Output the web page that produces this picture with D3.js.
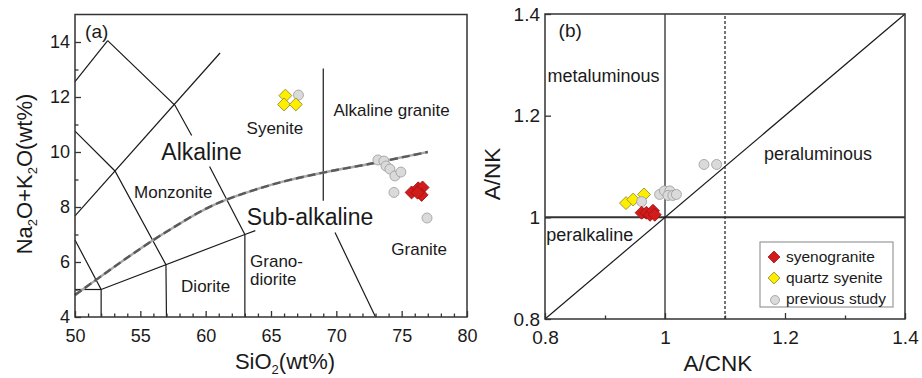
<!DOCTYPE html>
<html lang="en">
<head>
<meta charset="UTF-8">
<title>TAS and A/NK vs A/CNK</title>
<script src="https://cdn.jsdelivr.net/npm/d3@7"></script>
<style>
  body { margin: 0; background: #fff; }
  svg text { font-family: "Liberation Sans", Arial, Helvetica, sans-serif; fill: #1a1a1a; }
  .frame { fill: none; stroke: #333; stroke-width: 1.5px; }
  .axis path { display: none; }
  .axis line { stroke: #333; stroke-width: 1.3px; }
  .field { fill: none; stroke: #1a1a1a; stroke-width: 1.2px; }
</style>
</head>
<body>
<div id="chart"></div>
<script>
// ---- panel (a) TAS data ----
const tasXTicks = [50, 55, 60, 65, 70, 75, 80];
const tasXMinor = [51, 52, 53, 54, 56, 57, 58, 59, 61, 62, 63, 64, 66, 67, 68, 69, 71, 72, 73, 74, 76, 77, 78, 79];
const tasYTicks = [4, 6, 8, 10, 12, 14];
const tasYMinor = [5, 7, 9, 11, 13];

// field boundaries (SiO2, Na2O+K2O)
const tasFields = [
  [[50, 12.56], [52.5, 14.05]],
  [[52.5, 14.05], [57.65, 11.7], [58.93, 10.6]],
  [[50, 7.68], [61.1, 13.6]],
  [[50, 10.76], [53.06, 9.31], [56.96, 5.9], [57, 4]],
  [[50, 6.8], [52, 5], [52, 4]],
  [[50, 5], [52, 5]],
  [[52, 5], [63, 7], [63.8, 7.14]],
  [[63, 7], [63, 4]],
  [[60.3, 9.47], [63, 7]],
  [[69, 13.04], [69, 8.23]],
  [[69.9, 7.07], [73, 4]]
];
const tasDivide = [[50, 4.8], [51.9, 5.45], [56, 6.8], [57, 7.1], [60.6, 8.07], [62.6, 8.44], [65.9, 8.92], [69, 9.25], [72.8, 9.59], [77, 10.0]];

const tasSyenogranite = [[75.76, 8.53], [76.27, 8.68], [76.6, 8.71], [76.53, 8.44], [76.22, 8.52]];
const tasQuartzSyenite = [[66.1, 12.05], [66.0, 11.73], [66.9, 11.73]];
const tasPrevious = [[67.1, 12.07], [73.18, 9.71], [73.64, 9.67], [73.8, 9.49], [74.1, 9.38], [74.48, 9.13], [74.94, 9.27], [74.41, 8.53], [76.94, 7.6]];

const tasLabels = [
  { text: "Syenite", x: 65.3, y: 10.88, big: false, anchor: "middle" },
  { text: "Alkaline granite", x: 74.23, y: 11.53, big: false, anchor: "middle" },
  { text: "Alkaline", x: 59.69, y: 9.99, big: true, anchor: "middle" },
  { text: "Monzonite", x: 57.52, y: 8.56, big: false, anchor: "middle" },
  { text: "Sub-alkaline", x: 67.98, y: 7.63, big: true, anchor: "middle" },
  { text: "Granite", x: 76.34, y: 6.48, big: false, anchor: "middle" },
  { text: "Grano-", x: 63.4, y: 6.05, big: false, anchor: "start" },
  { text: "diorite", x: 63.4, y: 5.37, big: false, anchor: "start" },
  { text: "Diorite", x: 60.0, y: 5.13, big: false, anchor: "middle" }
];

// ---- panel (b) A/NK vs A/CNK data ----
const acnkTicks = [0.8, 1, 1.2, 1.4];
const acnkMinor = [0.9, 1.1, 1.3];
const ankTicks = [0.8, 1, 1.2, 1.4];

const bSyenogranite = [[0.961, 1.009], [0.969, 1.009], [0.975, 1.005], [0.98, 1.013], [0.983, 1.005]];
const bQuartzSyenite = [[0.935, 1.028], [0.947, 1.035], [0.965, 1.045]];
const bPrevious = [[0.961, 1.031], [0.991, 1.045], [0.999, 1.052], [1.008, 1.052], [1.005, 1.043], [1.013, 1.043], [1.019, 1.045], [1.065, 1.104], [1.086, 1.104]];

const bLabels = [
  { text: "metaluminous", x: 0.804, y: 1.279, anchor: "start" },
  { text: "peraluminous", x: 1.255, y: 1.125, anchor: "middle" },
  { text: "peralkaline", x: 0.802, y: 0.966, anchor: "start" }
];

const legendNames = ["syenogranite", "quartz syenite", "previous study"];

// ---- setup ----
const width = 922, height = 378;
const svg = d3.select("#chart").append("svg")
  .attr("width", width).attr("height", height);

const red = "#d21c1c", redStroke = "#9e1111";
const yellow = "#ffee00", yellowStroke = "#8d8a2a";
const grey = "#dadada", greyStroke = "#9a9a9a";

const diamond = d3.symbol().type(d3.symbolSquare).size(84);
const diamondSmall = d3.symbol().type(d3.symbolSquare).size(70);

function drawAxes(g, x, y, xt, xm, yt, ym, fmt) {
  const [x0, x1] = x.range(), [y0, y1] = y.range();
  g.append("g").attr("class", "axis").attr("transform", `translate(0,${y0})`)
    .call(d3.axisBottom(x).tickValues(xt).tickSizeInner(-6).tickSizeOuter(0).tickPadding(12).tickFormat(fmt))
    .call(s => s.selectAll("text").style("font-size", "18px").style("font-family", null));
  if (xm) g.append("g").attr("class", "axis").attr("transform", `translate(0,${y0})`)
    .call(d3.axisBottom(x).tickValues(xm).tickSizeInner(-3.5).tickSizeOuter(0).tickFormat(""));
  g.append("g").attr("class", "axis").attr("transform", `translate(${x0},0)`)
    .call(d3.axisLeft(y).tickValues(yt).tickSizeInner(-6).tickSizeOuter(0).tickPadding(fmt ? 5 : 12).tickFormat(fmt))
    .call(s => s.selectAll("text").style("font-size", "18px").style("font-family", null));
  if (ym) g.append("g").attr("class", "axis").attr("transform", `translate(${x0},0)`)
    .call(d3.axisLeft(y).tickValues(ym).tickSizeInner(-3.5).tickSizeOuter(0).tickFormat(""));
  g.append("rect").attr("class", "frame")
    .attr("x", x0).attr("y", y1).attr("width", x1 - x0).attr("height", y0 - y1);
}

// ---- panel (a) ----
const xA = d3.scaleLinear().domain([50, 80]).range([75, 467]);
const yA = d3.scaleLinear().domain([4, 15]).range([317, 14.5]);
const gA = svg.append("g");
const lineA = d3.line().x(d => xA(d[0])).y(d => yA(d[1]));

gA.selectAll("path.field").data(tasFields).join("path")
  .attr("class", "field").attr("d", lineA);

const divLine = d3.line().x(d => xA(d[0])).y(d => yA(d[1])).curve(d3.curveMonotoneX);
gA.append("path").attr("d", divLine(tasDivide))
  .attr("fill", "none").attr("stroke", "#a8a8a8").attr("stroke-width", 2.4);
gA.append("path").attr("d", divLine(tasDivide))
  .attr("fill", "none").attr("stroke", "#5a5a5a").attr("stroke-width", 2.4)
  .attr("stroke-dasharray", "8,4");

drawAxes(gA, xA, yA, tasXTicks, tasXMinor, tasYTicks, tasYMinor, d3.format("d"));

gA.selectAll("text.lbl").data(tasLabels).join("text")
  .attr("class", "lbl")
  .attr("x", d => xA(d.x)).attr("y", d => yA(d.y)).attr("dy", "0.35em")
  .attr("text-anchor", d => d.anchor)
  .style("font-size", d => d.big ? "23px" : "17px")
  .text(d => d.text);

gA.append("text").attr("x", xA(51.66)).attr("y", yA(14.37)).attr("dy", "0.35em")
  .attr("text-anchor", "middle").style("font-size", "19px").text("(a)");

gA.selectAll("circle.prev").data(tasPrevious).join("circle")
  .attr("class", "prev")
  .attr("cx", d => xA(d[0])).attr("cy", d => yA(d[1])).attr("r", 5)
  .attr("fill", grey).attr("stroke", greyStroke).attr("stroke-width", 0.8);
gA.selectAll("path.qs").data(tasQuartzSyenite).join("path")
  .attr("class", "qs").attr("d", diamond)
  .attr("transform", d => `translate(${xA(d[0])},${yA(d[1])}) rotate(45)`)
  .attr("fill", yellow).attr("stroke", yellowStroke).attr("stroke-width", 0.8);
gA.selectAll("path.sg").data(tasSyenogranite).join("path")
  .attr("class", "sg").attr("d", diamond)
  .attr("transform", d => `translate(${xA(d[0])},${yA(d[1])}) rotate(45)`)
  .attr("fill", red).attr("stroke", redStroke).attr("stroke-width", 0.8);

// axis titles (a)
const tA = gA.append("text").attr("x", 285).attr("y", 369).attr("text-anchor", "middle").style("font-size", "22px");
tA.append("tspan").text("SiO");
tA.append("tspan").attr("dy", 5).style("font-size", "13px").text("2");
tA.append("tspan").attr("dy", -5).text("(wt%)");

const yTA = gA.append("text").attr("transform", "translate(32,174) rotate(-90)")
  .attr("text-anchor", "middle").style("font-size", "22px");
yTA.append("tspan").text("Na");
yTA.append("tspan").attr("dy", 5).style("font-size", "13px").text("2");
yTA.append("tspan").attr("dy", -5).text("O+K");
yTA.append("tspan").attr("dy", 5).style("font-size", "13px").text("2");
yTA.append("tspan").attr("dy", -5).text("O(wt%)");

// ---- panel (b) ----
const xB = d3.scaleLinear().domain([0.8, 1.4]).range([545, 905]);
const yB = d3.scaleLinear().domain([0.8, 1.4]).range([319, 14]);
const gB = svg.append("g");

gB.append("line").attr("x1", xB(1)).attr("x2", xB(1)).attr("y1", yB(0.8)).attr("y2", yB(1.4))
  .attr("stroke", "#1a1a1a").attr("stroke-width", 1.2);
gB.append("line").attr("x1", xB(1.1)).attr("x2", xB(1.1)).attr("y1", yB(0.8)).attr("y2", yB(1.4))
  .attr("stroke", "#1a1a1a").attr("stroke-width", 1.2).attr("stroke-dasharray", "3,2");
gB.append("line").attr("x1", xB(0.8)).attr("x2", xB(1.4)).attr("y1", yB(1)).attr("y2", yB(1))
  .attr("stroke", "#333").attr("stroke-width", 2);
gB.append("line").attr("x1", xB(0.8)).attr("x2", xB(1.4)).attr("y1", yB(0.8)).attr("y2", yB(1.4))
  .attr("stroke", "#1a1a1a").attr("stroke-width", 1.2);

drawAxes(gB, xB, yB, acnkTicks, acnkMinor, ankTicks, null, d => d === 1 ? "1" : d3.format(".1f")(d));
gB.selectAll(".axis text").style("font-size", "19px");

gB.append("text").attr("x", xB(0.842)).attr("y", yB(1.368)).attr("dy", "0.35em")
  .attr("text-anchor", "middle").style("font-size", "19px").text("(b)");
gB.selectAll("text.lbl").data(bLabels).join("text")
  .attr("class", "lbl")
  .attr("x", d => xB(d.x)).attr("y", d => yB(d.y)).attr("dy", "0.35em")
  .attr("text-anchor", d => d.anchor).style("font-size", "18px")
  .text(d => d.text);

gB.selectAll("path.qs").data(bQuartzSyenite).join("path")
  .attr("class", "qs").attr("d", diamond)
  .attr("transform", d => `translate(${xB(d[0])},${yB(d[1])}) rotate(45)`)
  .attr("fill", yellow).attr("stroke", yellowStroke).attr("stroke-width", 0.8);
gB.selectAll("circle.prev").data(bPrevious).join("circle")
  .attr("class", "prev")
  .attr("cx", d => xB(d[0])).attr("cy", d => yB(d[1])).attr("r", 5)
  .attr("fill", grey).attr("stroke", greyStroke).attr("stroke-width", 0.8);
gB.selectAll("path.sg").data(bSyenogranite).join("path")
  .attr("class", "sg").attr("d", diamond)
  .attr("transform", d => `translate(${xB(d[0])},${yB(d[1])}) rotate(45)`)
  .attr("fill", red).attr("stroke", redStroke).attr("stroke-width", 0.8);

// axis titles (b)
gB.append("text").attr("x", 718).attr("y", 371).attr("text-anchor", "middle")
  .style("font-size", "22.5px").text("A/CNK");
gB.append("text").attr("transform", "translate(500,174) rotate(-90)")
  .attr("text-anchor", "middle").style("font-size", "22.5px").text("A/NK");

// legend
const leg = gB.append("g").attr("transform", "translate(760,242)");
leg.append("rect").attr("width", 133).attr("height", 65)
  .attr("fill", "#fff").attr("stroke", "#999").attr("stroke-width", 1.2);
const legItems = leg.selectAll("g.item").data(legendNames).join("g")
  .attr("class", "item").attr("transform", (d, i) => `translate(14,${15 + i * 21})`);
legItems.each(function (d, i) {
  const s = d3.select(this);
  if (i < 2) {
    s.append("path").attr("d", diamondSmall).attr("transform", "rotate(45)")
      .attr("fill", i === 0 ? red : yellow)
      .attr("stroke", i === 0 ? redStroke : yellowStroke).attr("stroke-width", 0.8);
  } else {
    s.append("circle").attr("cx", 1).attr("cy", 1).attr("r", 4.5)
      .attr("fill", grey).attr("stroke", greyStroke).attr("stroke-width", 0.8);
  }
  s.append("text").attr("x", 12).attr("dy", "0.35em").style("font-size", "15.5px").text(d);
});
</script>
</body>
</html>
